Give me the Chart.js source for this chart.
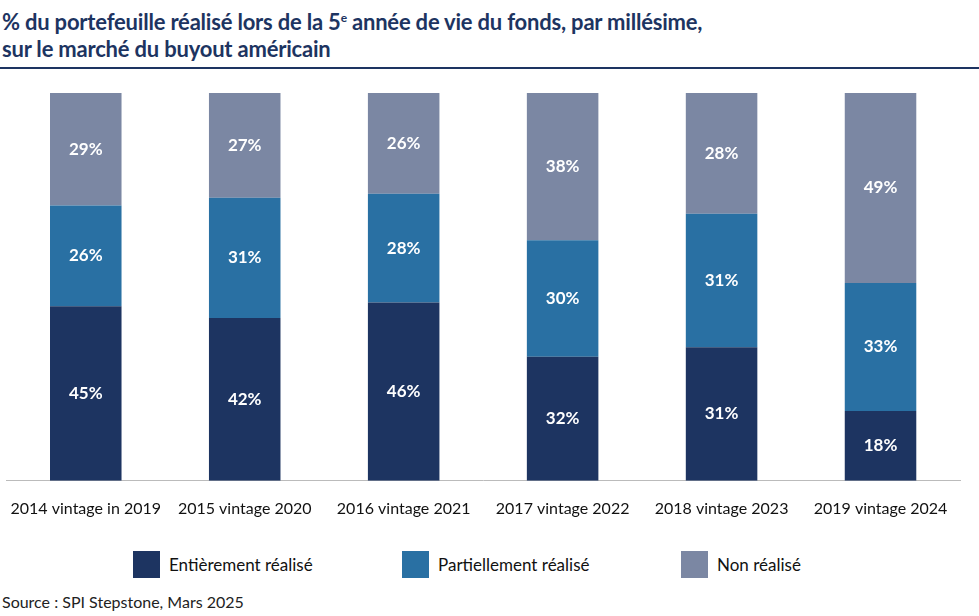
<!DOCTYPE html>
<html><head><meta charset="utf-8">
<script src="https://cdn.jsdelivr.net/npm/chart.js@4"></script>
<style>
body{margin:0;width:979px;height:616px;background:#fff;font-family:Lato,sans-serif;position:relative;overflow:hidden}
#title{position:absolute;left:2px;top:4px;font-size:22px;font-weight:bold;color:#1d3461;line-height:27px;letter-spacing:-0.2px}
#rule{position:absolute;left:0;top:67px;width:979px;height:2px;background:#1d3461}
#src{position:absolute;left:2px;top:592px;font-size:16px;color:#222}
#wrap{position:absolute;left:0;top:78px;width:979px;height:450px}
.lg{position:absolute;top:550px;height:28px;display:flex;align-items:center;font-size:17px;color:#111}
.lg span{display:inline-block;width:27px;height:27px;margin-right:9px}
</style></head><body>
<div id="title">% du portefeuille réalisé lors de la 5<sup style="font-size:12px">e</sup> année de vie du fonds, par millésime,<br>sur le marché du buyout américain</div>
<div id="rule"></div>
<div id="wrap"><canvas id="c"></canvas></div>
<div id="legend"></div>
<div id="src">Source : SPI Stepstone, Mars 2025</div>
<script>
const categories=["2014 vintage in 2019","2015 vintage 2020","2016 vintage 2021","2017 vintage 2022","2018 vintage 2023","2019 vintage 2024"];
const entierement=[45,42,46,32,31,18];
const partiellement=[26,31,28,30,31,33];
const nonRealise=[29,27,26,38,28,49];
const seriesNames=['Entièrement réalisé','Partiellement réalisé','Non réalisé'];
const colors=['#1d3461','#2970a3','#7b87a3'];
const raw=[entierement,partiellement,nonRealise];
const totals=categories.map((_,j)=>raw.reduce((s,a)=>s+a[j],0));
const share=a=>a.map((v,j)=>v/totals[j]*100);
const labelsPlugin={id:'lbl',afterDatasetsDraw(ch){const ctx=ch.ctx;ctx.save();ctx.fillStyle='#fff';ctx.font='bold 17px Lato';ctx.textAlign='center';ctx.textBaseline='middle';
ch.data.datasets.forEach((ds,i)=>{ch.getDatasetMeta(i).data.forEach((b,j)=>{ctx.fillText(raw[i][j]+'%',b.x,(b.y+b.base)/2);});});ctx.restore();}};
new Chart(document.getElementById('c'),{type:'bar',
data:{labels:categories,datasets:raw.map((a,i)=>({label:seriesNames[i],data:share(a),backgroundColor:colors[i]}))},
options:{responsive:true,maintainAspectRatio:false,animation:false,
layout:{padding:{top:15,left:6,right:19,bottom:0}},
datasets:{bar:{barPercentage:0.45,categoryPercentage:1}},
scales:{x:{stacked:true,grid:{display:false},border:{color:'#bbb'},ticks:{color:'#111',font:{size:16,family:'Lato'},padding:10}},
y:{stacked:true,min:0,max:100,display:false}},
plugins:{tooltip:{enabled:false},legend:{display:false}}},
plugins:[labelsPlugin]});
const lx=[133,402,681];
document.getElementById('legend').innerHTML=seriesNames.map((n,i)=>`<div class="lg" style="left:${lx[i]}px"><span style="background:${colors[i]}"></span>${n}</div>`).join('');
</script></body></html>
